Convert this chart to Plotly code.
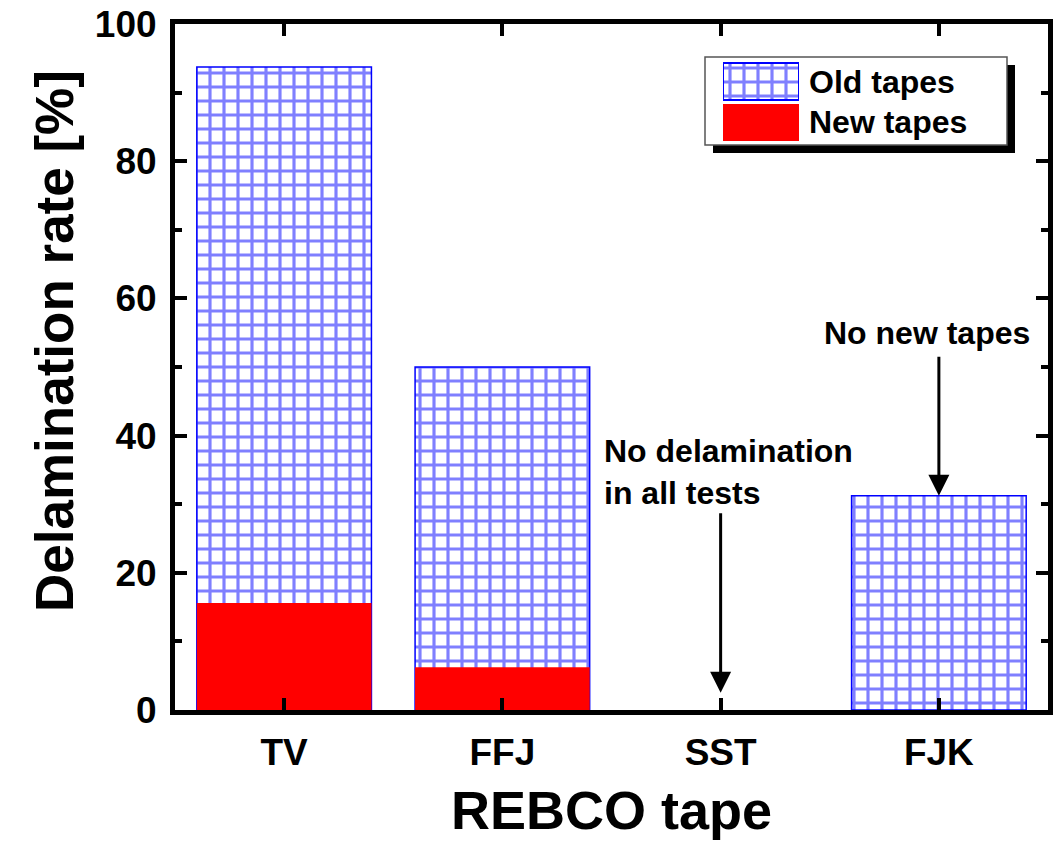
import plotly.graph_objects as go

# ---- data ----
categories = ["TV", "FFJ", "SST", "FJK"]
old_tapes = [93.75, 50.0, None, 31.25]
new_tapes = [15.6, 6.25, None, None]
y_ticks = [0, 20, 40, 60, 80, 100]
legend_names = ["Old tapes", "New tapes"]

FONT = "Liberation Sans"
BLUE = "#0000FF"
RED = "#FF0000"

fig = go.Figure()

grid_pattern = dict(shape="+", fgcolor=BLUE, bgcolor="white", size=14, solidity=0.4)

fig.add_trace(go.Bar(
    x=categories, y=old_tapes, name=legend_names[0],
    marker=dict(color="white", pattern=grid_pattern, line=dict(color=BLUE, width=1.5)),
    showlegend=False,
))
fig.add_trace(go.Bar(
    x=categories, y=new_tapes, name=legend_names[1],
    marker=dict(color=RED, line=dict(width=0)),
    showlegend=False,
))

# legend swatches drawn in a small auxiliary subplot
fig.add_trace(go.Bar(
    x=[1], y=[legend_names[0]], orientation="h", width=0.9,
    marker=dict(color="white", pattern=grid_pattern, line=dict(color=BLUE, width=2)),
    xaxis="x2", yaxis="y2", showlegend=False, hoverinfo="skip",
))
fig.add_trace(go.Bar(
    x=[1], y=[legend_names[1]], orientation="h", width=0.9,
    marker=dict(color=RED, line=dict(width=0)),
    xaxis="x2", yaxis="y2", showlegend=False, hoverinfo="skip",
))

# ---- layout ----
PL, PR, PT, PB = 175, 1048, 24, 710
W, H = 1061, 842
pw, ph = PR - PL, PB - PT


def px(xp):
    return (xp - PL) / pw


def py(yp):
    return (PB - yp) / ph


axis_common = dict(
    showline=True, linecolor="black", linewidth=5, mirror="ticks",
    ticks="inside", ticklen=12, tickwidth=4, tickcolor="black",
    showgrid=False, zeroline=False, automargin=False,
)

fig.update_layout(
    width=W, height=H,
    margin=dict(l=PL, r=W - PR, t=PT, b=H - PB, autoexpand=False),
    paper_bgcolor="white", plot_bgcolor="rgba(0,0,0,0)",
    barmode="overlay", bargap=0.2,
    font=dict(family=FONT, color="black", size=32, weight="bold"),
    xaxis=dict(
        **axis_common,
        type="category", categoryorder="array", categoryarray=categories,
        range=[-0.5, 3.5],
        tickfont=dict(size=37, family=FONT, weight="bold"),
        ticklabelstandoff=6,
        title=dict(text="REBCO tape", font=dict(size=54, family=FONT, weight="bold"), standoff=20),
    ),
    yaxis=dict(
        **axis_common,
        range=[0, 100], tickvals=y_ticks, ticktext=[str(v) for v in y_ticks],
        tickfont=dict(size=37, family=FONT, weight="bold"),
        ticklabelstandoff=6,
        minor=dict(dtick=10, tick0=0, ticks="inside", ticklen=7, tickwidth=4, tickcolor="black"),
    ),
    xaxis2=dict(domain=[px(723), px(799)], anchor="y2", range=[0, 1], visible=False, fixedrange=True),
    yaxis2=dict(domain=[py(143), py(61)], anchor="x2", type="category",
                categoryorder="array", categoryarray=legend_names[::-1],
                range=[-0.5, 1.5], visible=False, fixedrange=True),
)

# legend box with shadow
fig.add_shape(type="rect", xref="paper", yref="paper", layer="below",
              x0=px(713), x1=px(1015), y0=py(153), y1=py(65),
              fillcolor="black", line=dict(width=0))
fig.add_shape(type="rect", xref="paper", yref="paper", layer="below",
              x0=px(705), x1=px(1007), y0=py(145), y1=py(57),
              fillcolor="white", line=dict(color="#555555", width=1.5))

annotations = [
    dict(text=legend_names[0], xref="paper", yref="paper", x=px(807), y=py(82),
         xanchor="left", yanchor="middle", showarrow=False, font=dict(size=32)),
    dict(text=legend_names[1], xref="paper", yref="paper", x=px(807), y=py(122),
         xanchor="left", yanchor="middle", showarrow=False, font=dict(size=32)),
    dict(text="Delamination rate [%]", xref="paper", yref="paper", x=px(54), y=py(341),
         textangle=-90, xanchor="center", yanchor="middle", showarrow=False,
         font=dict(size=53)),
    dict(text="No new tapes", xref="paper", yref="paper", x=px(927), y=py(333),
         xanchor="center", yanchor="middle", showarrow=False, font=dict(size=32)),
    dict(text="No delamination<br>in all tests", xref="paper", yref="paper",
         x=px(602), y=py(472), xanchor="left", yanchor="middle", align="left",
         showarrow=False, font=dict(size=32)),
    # arrows
    dict(text="", x=categories[2], y=2.5, ax=categories[2], ay=28.9,
         xref="x", yref="y", axref="x", ayref="y",
         showarrow=True, arrowhead=2, arrowsize=1.4, arrowwidth=3, arrowcolor="black"),
    dict(text="", x=categories[3], y=old_tapes[3], ax=categories[3], ay=51.7,
         xref="x", yref="y", axref="x", ayref="y",
         showarrow=True, arrowhead=2, arrowsize=1.4, arrowwidth=3, arrowcolor="black"),
]
fig.update_layout(annotations=annotations)

fig.write_html("out.html")
